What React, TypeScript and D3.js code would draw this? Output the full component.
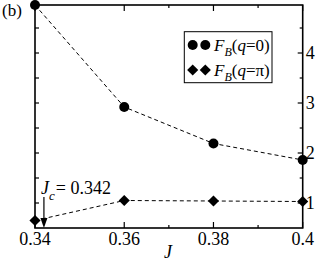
import React from 'react';
import * as d3 from 'd3';

// J values and the two series
const jValues = [0.34, 0.36, 0.38, 0.4];
const fbQ0 = [4.96, 2.92, 2.19, 1.86];
const fbQpi = [0.65, 1.05, 1.04, 1.03];

const xMajorTicks = [0.34, 0.36, 0.38, 0.4];
const xTickLabels = ['0.34', '0.36', '0.38', '0.4'];
const xMinorTicks = [0.37, 0.39];
const yMajorTicks = [1, 2, 3, 4];
const yTickLabels = ['1', '2', '3', '4'];
const yMinorTicks = [1.5, 2.5, 3.5, 4.5];
const leftTicks = [1, 1.5, 2, 2.5, 3, 3.5, 4, 4.5];
const jc = 0.342;
const jcLabel = '= 0.342';

const W = 316;
const H = 262;
const font = 'Liberation Serif';

export default function App() {
  const x = d3.scaleLinear().domain([0.34, 0.4]).range([35, 302.7]);
  const y = d3.scaleLinear().domain([0.5, 4.96]).range([228, 5]);
  const [x0, x1] = x.range();
  const [y0, y1] = y.range();

  const line = d3
    .line<number>()
    .x((d, i) => x(jValues[i]))
    .y(d => y(d));

  // diamond = square turned 45 degrees
  const diamond = d3.symbol().type(d3.symbolSquare).size(62)();
  const arrowX = x(jc);

  return (
    <svg
      width={W}
      height={H}
      style={{ position: 'absolute', left: 0, top: 0, background: '#fff', fontFamily: font }}
    >
      {/* frame */}
      <rect x={x0} y={y1} width={x1 - x0} height={y0 - y1} fill="none" stroke="#000" strokeWidth={1.6} />

      {/* x ticks, bottom and top, pointing inward */}
      {xMajorTicks.map(t => (
        <g key={'xm' + t}>
          <line x1={x(t)} x2={x(t)} y1={y0} y2={y0 - 6} stroke="#000" strokeWidth={1.2} />
          <line x1={x(t)} x2={x(t)} y1={y1} y2={y1 + 6} stroke="#000" strokeWidth={1.2} />
        </g>
      ))}
      {xMinorTicks.map(t => (
        <g key={'xn' + t}>
          <line x1={x(t)} x2={x(t)} y1={y0} y2={y0 - 3} stroke="#000" strokeWidth={1.2} />
          <line x1={x(t)} x2={x(t)} y1={y1} y2={y1 + 3} stroke="#000" strokeWidth={1.2} />
        </g>
      ))}
      {xMajorTicks.map((t, i) => (
        <text key={'xl' + t} x={x(t)} y={245} fontSize={18} textAnchor="middle">
          {xTickLabels[i]}
        </text>
      ))}
      <text x={168} y={258} fontSize={18} fontStyle="italic" textAnchor="middle">J</text>

      {/* left ticks */}
      {leftTicks.map(t => (
        <line key={'lt' + t} x1={x0} x2={x0 + 4} y1={y(t)} y2={y(t)} stroke="#000" strokeWidth={1.2} />
      ))}

      {/* right axis */}
      {yMajorTicks.map((t, i) => (
        <g key={'ym' + t}>
          <line x1={x1} x2={x1 - 5} y1={y(t)} y2={y(t)} stroke="#000" strokeWidth={1.2} />
          <text x={x1 + 3} y={y(t) + 6} fontSize={18}>{yTickLabels[i]}</text>
        </g>
      ))}
      {yMinorTicks.map(t => (
        <line key={'yn' + t} x1={x1} x2={x1 - 3} y1={y(t)} y2={y(t)} stroke="#000" strokeWidth={1.2} />
      ))}

      {/* dashed lines */}
      <path d={line(fbQ0) || ''} fill="none" stroke="#000" strokeWidth={1} strokeDasharray="4,3" />
      <path d={line(fbQpi) || ''} fill="none" stroke="#000" strokeWidth={1} strokeDasharray="4,3" />

      {/* markers */}
      {fbQ0.map((v, i) => (
        <circle key={'c' + i} cx={x(jValues[i])} cy={y(v)} r={5} fill="#000" />
      ))}
      {fbQpi.map((v, i) => (
        <path key={'d' + i} d={diamond || ''} transform={`translate(${x(jValues[i])},${y(v)}) rotate(45)`} fill="#000" />
      ))}

      {/* Jc arrow */}
      <line x1={arrowX} x2={arrowX} y1={197} y2={220} stroke="#000" strokeWidth={1.2} />
      <path d={`M${arrowX - 3.5},${218}L${arrowX + 3.5},${218}L${arrowX},${228}Z`} fill="#000" />
      <text x={41} y={194} fontSize={18}>
        <tspan fontStyle="italic">J</tspan>
        <tspan fontStyle="italic" fontSize={13} dy={6}>c</tspan>
        <tspan dy={-6} dx={1}>{jcLabel}</tspan>
      </text>

      {/* legend */}
      <rect x={184.3} y={31.7} width={87.7} height={51} fill="#fff" stroke="#000" strokeWidth={1} />
      <circle cx={192.7} cy={45} r={5} fill="#000" />
      <circle cx={205.3} cy={45} r={5} fill="#000" />
      <text x={214} y={51} fontSize={17}>
        <tspan fontStyle="italic">F</tspan>
        <tspan fontStyle="italic" fontSize={12} dy={5}>B</tspan>
        <tspan dy={-5}>(</tspan>
        <tspan fontStyle="italic">q</tspan>
        <tspan>=0)</tspan>
      </text>
      <path d={diamond || ''} transform="translate(192.7,70) rotate(45)" fill="#000" />
      <path d={diamond || ''} transform="translate(205.3,70) rotate(45)" fill="#000" />
      <text x={214} y={76} fontSize={17}>
        <tspan fontStyle="italic">F</tspan>
        <tspan fontStyle="italic" fontSize={12} dy={5}>B</tspan>
        <tspan dy={-5}>(</tspan>
        <tspan fontStyle="italic">q</tspan>
        <tspan>=π)</tspan>
      </text>

      <text x={2} y={16} fontSize={17}>(b)</text>
    </svg>
  );
}
